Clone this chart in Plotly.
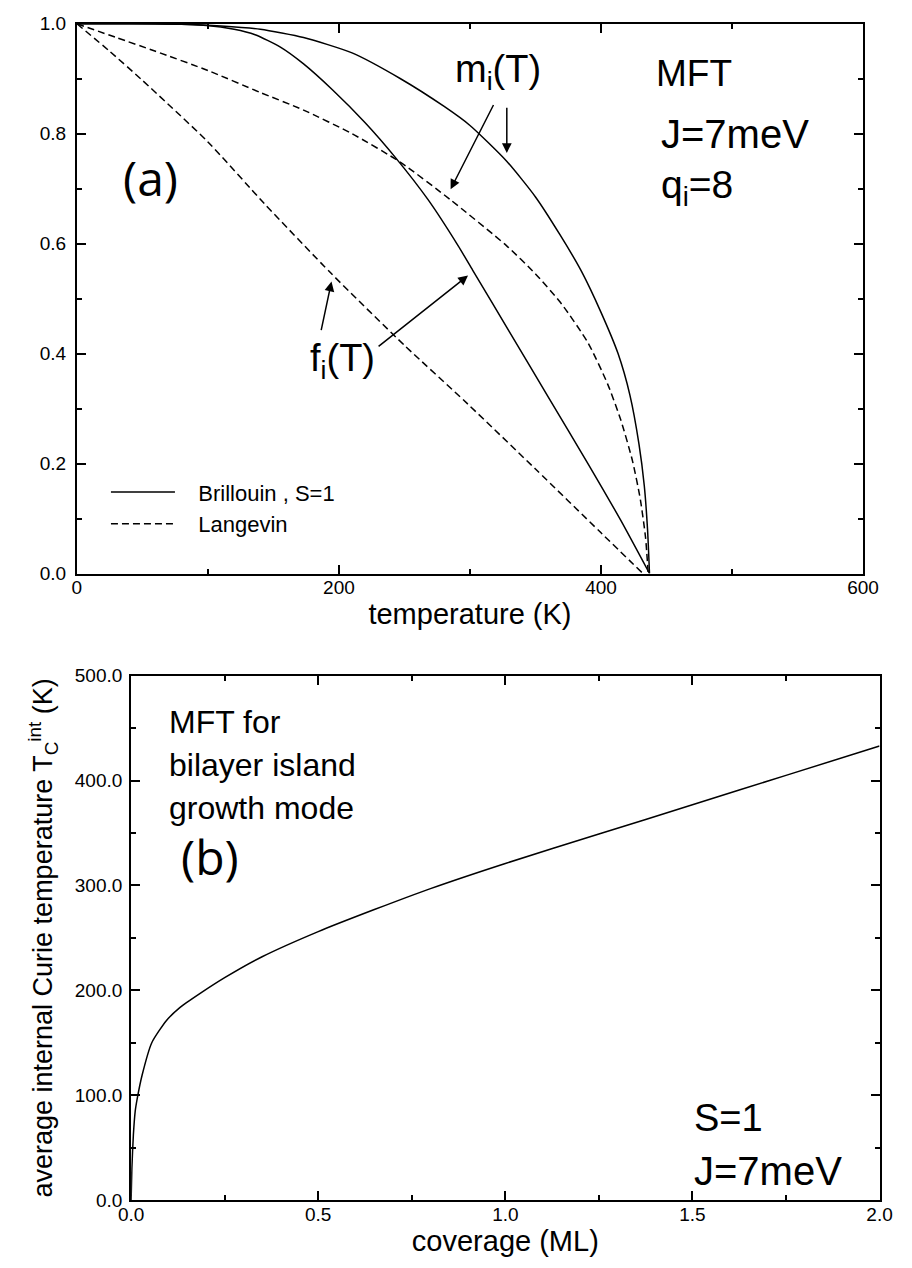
import plotly.graph_objects as go

# ---------------- panel (a) data ----------------
T_mB = [0, 40, 80, 110, 140, 173, 210, 247, 280, 300, 328, 350, 369, 385, 400, 413, 422, 429, 433, 435.5, 437]
m_B = [1.0, 1.0, 0.999, 0.996, 0.99, 0.975, 0.947, 0.9, 0.85, 0.815, 0.75, 0.685, 0.615, 0.55, 0.475, 0.40, 0.325, 0.235, 0.16, 0.08, 0.0]

T_fB = [0, 60, 99, 120, 136, 155, 173, 195, 220, 243, 268, 291, 302, 330, 360, 390, 415, 437]
f_B = [1.0, 1.0, 0.997, 0.99, 0.98, 0.958, 0.927, 0.88, 0.82, 0.757, 0.68, 0.596, 0.552, 0.44, 0.32, 0.20, 0.097, 0.0]

T_mL = [0, 30, 60, 100, 140, 173, 210, 247, 285, 328, 350, 370, 390, 405, 415, 424, 430, 434, 436]
m_L = [1.0, 0.975, 0.95, 0.915, 0.875, 0.843, 0.80, 0.748, 0.68, 0.596, 0.545, 0.49, 0.42, 0.345, 0.28, 0.205, 0.135, 0.065, 0.0]

T_fL = [0, 25, 50, 100, 143, 194, 250, 298, 350, 400, 432]
f_L = [1.0, 0.95, 0.897, 0.785, 0.673, 0.546, 0.415, 0.309, 0.19, 0.074, 0.0]

# ---------------- panel (b) data ----------------
coverage = [0, 0.002, 0.006, 0.011, 0.0164, 0.0293, 0.0552, 0.094, 0.1285, 0.1845, 0.25, 0.35,
            0.5, 0.65, 0.8, 1.0, 1.25, 1.5, 1.75, 2.0]
tc_int = [0, 30, 62, 85, 97, 119, 150, 171, 183, 197, 212, 232,
          256, 277, 297, 321, 349, 377, 405, 433]

FONT = "Liberation Sans, Arial, Helvetica, sans-serif"
PFONT = "Open Sans, Lato, sans-serif"
W, H = 912, 1268

fig = go.Figure()
line_solid = dict(color="black", width=1.5, shape="spline", smoothing=0.6)
line_dash = dict(color="black", width=1.5, dash="7px,4px", shape="spline", smoothing=0.6)

fig.add_trace(go.Scatter(x=T_mB, y=m_B, mode="lines", line=line_solid,
                         name="\u00a0\u00a0\u00a0Brillouin , S=1",
                         showlegend=True, xaxis="x", yaxis="y"))
fig.add_trace(go.Scatter(x=T_fB, y=f_B, mode="lines", line=line_solid, showlegend=False,
                         xaxis="x", yaxis="y"))
fig.add_trace(go.Scatter(x=T_mL, y=m_L, mode="lines", line=line_dash,
                         name="\u00a0\u00a0\u00a0Langevin",
                         showlegend=True, xaxis="x", yaxis="y"))
fig.add_trace(go.Scatter(x=T_fL, y=f_L, mode="lines", line=line_dash, showlegend=False,
                         xaxis="x", yaxis="y"))
fig.add_trace(go.Scatter(x=coverage, y=tc_int, mode="lines", line=line_solid, showlegend=False,
                         xaxis="x2", yaxis="y2"))

def axis(domain, rng, dtick, minor, fmt, anchor, standoff):
    return dict(domain=domain, range=rng, dtick=dtick, tick0=0, tickformat=fmt, anchor=anchor,
                ticks="inside", ticklen=9, tickwidth=1.5, tickcolor="black",
                minor=dict(dtick=minor, tick0=0, ticks="inside", ticklen=5, tickwidth=1.5, tickcolor="black"),
                showline=True, linewidth=2, linecolor="black", mirror="allticks",
                showgrid=False, zeroline=False, ticklabelstandoff=standoff,
                tickfont=dict(family=FONT, size=19, color="black"))

xa = axis([66 / W, 878 / W], [0, 600], 200, 100, "d", "y", -4)
xa["title"] = dict(text="temperature (K)", font=dict(family=FONT, size=29, color="black"), standoff=6)
ya = axis([1 - 573 / H, 1 - 14 / H], [0, 1], 0.2, 0.1, ".1f", "x", 5)
xb = axis([122 / W, 895 / W], [0, 2], 0.5, 0.25, ".1f", "y2", -4)
xb["title"] = dict(text="coverage (ML)", font=dict(family=FONT, size=29, color="black"), standoff=6)
yb = axis([1 - 1210 / H, 1 - 677 / H], [0, 500], 100, 50, ".1f", "x2", 3)
yb["title"] = dict(text="average internal Curie temperature T<sub>C</sub><sup>int</sup> (K)",
                   font=dict(family=FONT, size=27, color="black"), standoff=14)

annotations = []
def txt(x, y, s, size, xref="x", yref="y", family=FONT, xanchor="left"):
    annotations.append(dict(x=x, y=y, xref=xref, yref=yref, text=s, showarrow=False,
                            xanchor=xanchor, yanchor="middle",
                            font=dict(family=family, size=size, color="black")))

def arrow(x0, y0, x1, y1, xref="x", yref="y"):
    annotations.append(dict(x=x1, y=y1, ax=x0, ay=y0, xref=xref, yref=yref, axref=xref, ayref=yref,
                            text="", showarrow=True, arrowhead=2, arrowsize=1.3, arrowwidth=1.5,
                            arrowcolor="black", standoff=0, startstandoff=0))

# panel (a)
txt(56, 0.721, "(a)", 48, family=PFONT, xanchor="center")
txt(287.4, 0.912, "m<sub>i</sub>(T)", 38)
txt(440.4, 0.909, "MFT", 37)
txt(444.1, 0.800, "J=7meV", 40)
txt(444.1, 0.702, "q<sub>i</sub>=8", 39)
txt(176.6, 0.386, "f<sub>i</sub>(T)", 38)
arrow(318.5, 0.855, 285.2, 0.699)
arrow(328.1, 0.850, 328.1, 0.765)
arrow(186.2, 0.440, 194.3, 0.531)
arrow(229.1, 0.411, 298.5, 0.542)

# panel (b)
txt(0.096, 456, "MFT for", 32, "x2", "y2")
txt(0.096, 415, "bilayer island", 32, "x2", "y2")
txt(0.096, 374, "growth mode", 32, "x2", "y2")
txt(0.21, 328, "(b)", 48, "x2", "y2", family=PFONT, xanchor="center")
txt(1.498, 78, "S=1", 38, "x2", "y2")
txt(1.498, 28, "J=7meV", 40, "x2", "y2")

fig.update_layout(
    width=W, height=H, margin=dict(l=0, r=0, t=0, b=0),
    paper_bgcolor="white", plot_bgcolor="white",
    xaxis=xa, yaxis=ya, xaxis2=xb, yaxis2=yb,
    annotations=annotations,
    legend=dict(x=96 / W, y=1 - 469 / H, xanchor="left", yanchor="top",
                bgcolor="rgba(0,0,0,0)", font=dict(family=FONT, size=22, color="black"),
                itemwidth=64),
    font=dict(family=FONT, color="black"),
)

fig.write_html("out.html", config={"displayModeBar": False},
               post_script="document.body.style.margin='0';")
